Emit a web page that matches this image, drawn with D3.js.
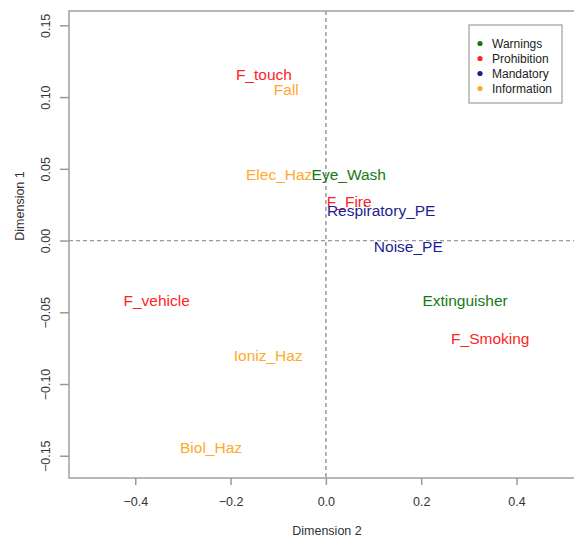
<!DOCTYPE html>
<html>
<head>
<meta charset="utf-8">
<script src="https://cdn.jsdelivr.net/npm/d3@7"></script>
<style>
  body { margin: 0; background: #fff; }
  text { font-family: "Liberation Sans", Arial, sans-serif; }
</style>
</head>
<body>
<div id="chart"></div>
<script>
// sign names and their coordinates (Dimension 2 = x, Dimension 1 = y)
const labels = ["F_touch", "Fall", "Elec_Haz", "Eye_Wash", "F_Fire", "Respiratory_PE", "Noise_PE",
  "F_vehicle", "Extinguisher", "F_Smoking", "Ioniz_Haz", "Biol_Haz"];
const dim2 = [-0.130, -0.083, -0.098, 0.048, 0.049, 0.116, 0.173, -0.355, 0.292, 0.345, -0.121, -0.241];
const dim1 = [0.116, 0.105, 0.046, 0.046, 0.027, 0.021, -0.004, -0.0415, -0.042, -0.068, -0.0805, -0.144];
const groups = ["Prohibition", "Information", "Information", "Warnings", "Prohibition", "Mandatory", "Mandatory",
  "Prohibition", "Warnings", "Prohibition", "Information", "Information"];

const legendKeys = ["Warnings", "Prohibition", "Mandatory", "Information"];
const legendColors = ["#157a15", "#ff2424", "#1e1e90", "#ffa92e"];

const xTicks = [-0.4, -0.2, 0.0, 0.2, 0.4];
const yTicks = [-0.15, -0.10, -0.05, 0.00, 0.05, 0.10, 0.15];

const width = 574;
const height = 537;

const svg = d3.select("#chart")
  .append("svg")
  .attr("width", width)
  .attr("height", height);

const x = d3.scaleLinear().domain([-0.539, 0.529]).range([69, 578]);
const y = d3.scaleLinear().domain([-0.1655, 0.16]).range([478, 11]);

let color = d3.scaleOrdinal().domain(legendKeys).range(legendColors);

// zero lines
svg.append("line")
  .attr("x1", x(0)).attr("x2", x(0))
  .attr("y1", y.range()[1]).attr("y2", y.range()[0])
  .attr("stroke", "#999").attr("stroke-width", 1.5)
  .attr("stroke-dasharray", "4,3");
svg.append("line")
  .attr("x1", x.range()[0]).attr("x2", x.range()[1])
  .attr("y1", y(0)).attr("y2", y(0))
  .attr("stroke", "#999").attr("stroke-width", 1.2)
  .attr("stroke-dasharray", "4,3");

// plot box
svg.append("rect")
  .attr("x", x.range()[0]).attr("y", y.range()[1])
  .attr("width", x.range()[1] - x.range()[0])
  .attr("height", y.range()[0] - y.range()[1])
  .attr("fill", "none")
  .attr("stroke", "#a0a0a0").attr("stroke-width", 1.5);

// axes
const xAxis = svg.append("g")
  .attr("transform", `translate(0,${y.range()[0]})`)
  .call(d3.axisBottom(x).tickValues(xTicks).tickSize(7).tickPadding(12)
    .tickFormat(d => d3.format(".1f")(d).replace("-", "\u2212")));
xAxis.select(".domain").remove();

const yAxis = svg.append("g")
  .attr("transform", `translate(${x.range()[0]},0)`)
  .call(d3.axisLeft(y).tickValues(yTicks).tickSize(9).tickPadding(0)
    .tickFormat(d => d3.format(".2f")(d).replace("-", "\u2212")));
yAxis.select(".domain").remove();

svg.selectAll(".tick line").attr("stroke", "#999").attr("stroke-width", 1.5);
svg.selectAll(".tick text").attr("fill", "#333").style("font-size", "12.5px");

yAxis.selectAll(".tick text")
  .attr("x", null).attr("dy", null)
  .attr("text-anchor", "middle")
  .attr("transform", "translate(-23,0) rotate(-90)")
  .attr("dy", "0.35em");

// axis titles
svg.append("text")
  .attr("x", 327).attr("y", 532)
  .attr("text-anchor", "middle")
  .attr("dominant-baseline", "middle")
  .style("font-size", "12.5px").attr("fill", "#333")
  .text("Dimension 2");

svg.append("text")
  .attr("transform", "translate(21,206) rotate(-90)")
  .attr("text-anchor", "middle")
  .attr("dominant-baseline", "middle")
  .style("font-size", "12.5px").attr("fill", "#333")
  .text("Dimension 1");

// point labels
svg.selectAll(".label")
  .data(labels)
  .enter()
  .append("text")
  .attr("class", "label")
  .attr("x", (d, i) => x(dim2[i]))
  .attr("y", (d, i) => y(dim1[i]))
  .attr("text-anchor", "middle")
  .attr("dy", "0.35em")
  .style("font-size", "15.5px")
  .attr("fill", (d, i) => color(groups[i]))
  .text(d => d);

// legend
let legend = svg.append("g").attr("id", "legend");

legend.append("rect")
  .attr("x", 469).attr("y", 25)
  .attr("width", 93).attr("height", 78)
  .attr("fill", "#fff")
  .attr("stroke", "#a0a0a0").attr("stroke-width", 1.2);

legend.selectAll("circle")
  .data(legendKeys)
  .enter()
  .append("circle")
  .attr("cx", 480)
  .attr("cy", (d, i) => 43.5 + i * 15)
  .attr("r", 2.6)
  .attr("fill", d => color(d));

legend.selectAll("text")
  .data(legendKeys)
  .enter()
  .append("text")
  .attr("x", 492)
  .attr("y", (d, i) => 43.5 + i * 15)
  .attr("dy", "0.35em")
  .style("font-size", "12px")
  .attr("fill", "#222")
  .text(d => d);
</script>
</body>
</html>
